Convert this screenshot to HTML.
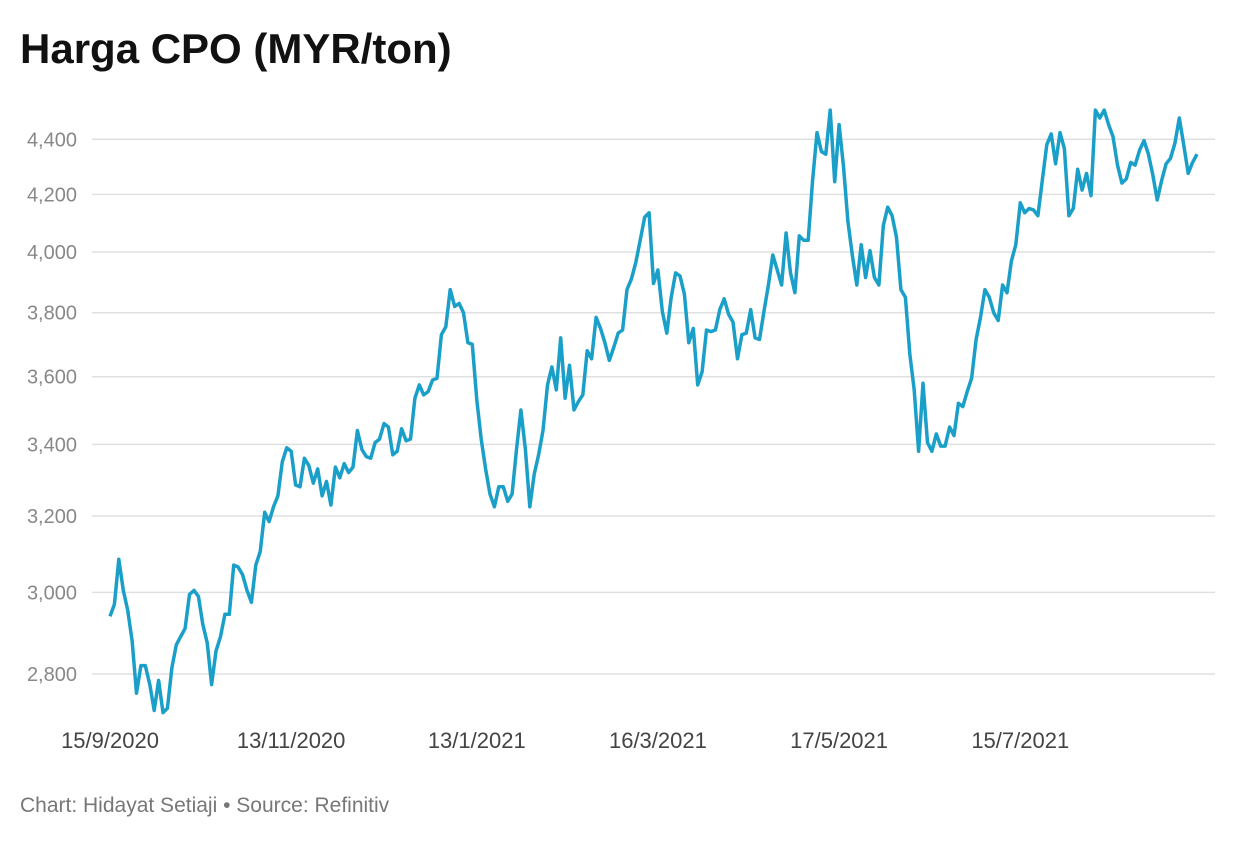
<!DOCTYPE html>
<html><head><meta charset="utf-8"><style>
body{margin:0;background:#fff;width:1240px;height:840px;overflow:hidden;font-family:"Liberation Sans",sans-serif}
</style></head><body>
<svg width="1240" height="840">
<text x="20" y="63" font-size="42" font-weight="bold" fill="#111">Harga CPO (MYR/ton)</text>
<g id="grid"></g><g id="xaxis"></g><path id="line" fill="none" stroke="#1a9fc9" stroke-width="3.5" stroke-linejoin="round"/>
<text x="20" y="812" font-size="21" fill="#777">Chart: Hidayat Setiaji • Source: Refinitiv</text>
</svg>
<script>
const yTicks=[2800,3000,3200,3400,3600,3800,4000,4200,4400];
const xLabels=["15/9/2020","13/11/2020","13/1/2021","16/3/2021","17/5/2021","15/7/2021"];
const xLabelIdx=[0,41,83,124,165,206];
const prices=[2940,2970,3085,3005,2955,2880,2755,2820,2820,2775,2715,2785,2710,2720,2815,2870,2890,2910,2995,3005,2990,2920,2875,2775,2855,2890,2945,2945,3070,3065,3045,3005,2975,3070,3105,3210,3185,3225,3255,3350,3390,3380,3285,3280,3360,3340,3290,3330,3255,3295,3230,3335,3305,3345,3320,3335,3440,3385,3365,3360,3405,3415,3460,3450,3370,3380,3445,3410,3415,3535,3575,3545,3555,3590,3595,3730,3755,3875,3820,3830,3800,3705,3700,3530,3415,3330,3260,3225,3280,3280,3240,3260,3385,3500,3385,3225,3315,3370,3440,3575,3630,3560,3720,3535,3635,3500,3525,3545,3680,3655,3785,3750,3705,3650,3690,3735,3745,3875,3910,3965,4040,4120,4135,3895,3940,3805,3735,3850,3930,3920,3860,3705,3750,3575,3615,3745,3740,3745,3810,3845,3795,3770,3655,3730,3735,3810,3720,3715,3805,3890,3990,3940,3890,4065,3930,3865,4055,4040,4040,4250,4425,4355,4345,4510,4245,4455,4300,4105,3990,3890,4025,3915,4005,3915,3890,4090,4155,4125,4050,3875,3850,3670,3560,3380,3580,3405,3380,3430,3395,3395,3450,3425,3520,3510,3555,3595,3715,3785,3875,3850,3800,3775,3890,3865,3970,4025,4170,4135,4150,4145,4125,4250,4380,4420,4310,4425,4365,4125,4150,4290,4215,4275,4195,4510,4480,4510,4455,4410,4305,4240,4255,4315,4305,4360,4395,4345,4270,4180,4250,4310,4330,4385,4480,4380,4275,4315,4345];
const X0=110,X1=1197,Y0=674,K=1183;
const y=v=>Y0-K*Math.log(v/2800);
const x=i=>X0+(X1-X0)*i/(prices.length-1);
const NS="http://www.w3.org/2000/svg";
const grid=document.getElementById('grid');
yTicks.forEach(t=>{
 const l=document.createElementNS(NS,'line');
 l.setAttribute('x1',92);l.setAttribute('x2',1215);l.setAttribute('y1',y(t));l.setAttribute('y2',y(t));
 l.setAttribute('stroke','#e0e0e0');l.setAttribute('stroke-width','1.5');
 
 
 grid.appendChild(l);
 const tx=document.createElementNS(NS,'text');
 tx.setAttribute('x',77);tx.setAttribute('y',y(t)+7);tx.setAttribute('text-anchor','end');
 tx.setAttribute('font-size','20');tx.setAttribute('fill','#888');
 tx.textContent=t.toLocaleString('en-US');
 
 
 grid.appendChild(tx);
});
const xa=document.getElementById('xaxis');
xLabels.forEach((s,k)=>{
 const tx=document.createElementNS(NS,'text');
 tx.setAttribute('x',x(xLabelIdx[k]));tx.setAttribute('y',748);tx.setAttribute('text-anchor','middle');
 tx.setAttribute('font-size','22');tx.setAttribute('fill','#444');
 tx.textContent=s;
 
 
 xa.appendChild(tx);
});
document.getElementById('line').setAttribute('d',prices.map((v,i)=>(i?'L':'M')+x(i).toFixed(1)+','+y(v).toFixed(1)).join(''));
</script>
</body></html>
